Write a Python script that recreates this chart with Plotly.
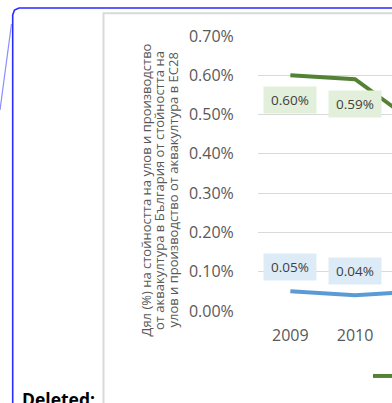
import plotly.graph_objects as go

# ---- data ----
years = [2009, 2010, 2011]
green_name = "Улов"
green_vals = [0.0060, 0.0059, 0.0047]
blue_name = "Аквакултура"
blue_vals = [0.0005, 0.0004, 0.0005]
y_ticks = [0.0, 0.001, 0.002, 0.003, 0.004, 0.005, 0.006, 0.007]
axis_title_lines = ["Дял (%) на стойността на улов и производство",
                    "от аквакултура в България от стойността на",
                    "улов и производство от аквакултура в ЕС28"]

W, H = 392, 403
ML, MR, MT, MB = 258, 0, 36, 92
PW, PH = W - ML - MR, H - MT - MB


def px(x):
    return (x - ML) / PW


def py(y):
    return (H - MB - y) / PH


GREEN = "#548235"
BLUE = "#5b9bd5"
TXT = "#595959"
FONT = "Open Sans"

fig = go.Figure()
fig.add_trace(go.Scatter(x=years, y=green_vals, mode="lines", name=green_name,
                         line=dict(color=GREEN, width=4)))
fig.add_trace(go.Scatter(x=years, y=blue_vals, mode="lines", name=blue_name,
                         line=dict(color=BLUE, width=4), showlegend=False))

annotations = []
for x, v in zip(years, green_vals):
    annotations.append(dict(x=x, y=v, xref="x", yref="y", text=f"{v*100:.2f}%",
                            showarrow=False, yshift=-25, width=50, height=24,
                            bgcolor="#e2efda", font=dict(family=FONT, size=13.5, color="#404040")))
for x, v in zip(years, blue_vals):
    annotations.append(dict(x=x, y=v, xref="x", yref="y", text=f"{v*100:.2f}%",
                            showarrow=False, yshift=24, width=50, height=24,
                            bgcolor="#ddebf7", font=dict(family=FONT, size=13.5, color="#404040")))

for i, line in enumerate(axis_title_lines):
    annotations.append(dict(x=px(145 + 13.5 * i), y=py(190.5), xref="paper", yref="paper",
                            xanchor="center", yanchor="middle",
                            text=line, textangle=-90, showarrow=False,
                            font=dict(family=FONT, size=13, color=TXT)))
annotations.append(dict(x=px(20), y=py(385), xref="paper", yref="paper",
                        xanchor="left", yanchor="top", text="<b>Deleted:</b>", showarrow=False,
                        font=dict(family=FONT, size=17.5, color="#000000")))


def path(points):
    return "M " + " L ".join(f"{px(a)},{py(b)}" for a, b in points)


shapes = [
    # chart area border (light grey)
    dict(type="path", xref="paper", yref="paper",
         path=path([(103.5, 410), (103.5, 13.3), (400, 13.3)]),
         line=dict(color="#d9d9d9", width=2), layer="below"),
    # comment balloon frame
    dict(type="path", xref="paper", yref="paper",
         path=path([(12.7, 410), (12.7, 15), (14.5, 10), (19, 8), (400, 8)]),
         line=dict(color="#2a2aff", width=1.6)),
    dict(type="path", xref="paper", yref="paper",
         path=path([(0, 110), (11.5, 24)]),
         line=dict(color="#8c8cff", width=1.2)),
]

fig.update_layout(
    width=W, height=H,
    margin=dict(l=ML, r=MR, t=MT, b=MB, pad=0, autoexpand=False),
    paper_bgcolor="white", plot_bgcolor="white",
    font=dict(family=FONT, color=TXT),
    showlegend=True,
    legend=dict(orientation="h", x=px(373 - 5), y=py(376), xanchor="left", yanchor="middle",
                font=dict(size=13, color=TXT), bgcolor="rgba(0,0,0,0)", borderwidth=0),
    xaxis=dict(range=[2008.5, 2008.5 + PW / 64.7], tickmode="array", tickvals=years,
               ticktext=[str(y) for y in years], showgrid=False, zeroline=False,
               showline=False, ticks="outside", ticklen=10, tickcolor="rgba(0,0,0,0)",
               tickfont=dict(family=FONT, size=16, color=TXT)),
    yaxis=dict(range=[0, 0.007], tickmode="array", tickvals=y_ticks, tickformat=".2%",
               showgrid=True, gridcolor="#d9d9d9", gridwidth=1.3, zeroline=False,
               showline=False, ticks="outside", ticklen=20, tickcolor="rgba(0,0,0,0)",
               tickfont=dict(family=FONT, size=16, color=TXT)),
    annotations=annotations,
    shapes=shapes,
)

fig.write_html("out.html",
               config={"displayModeBar": False},
               post_script="document.body.style.margin='0';"
                           "document.documentElement.style.overflow='hidden';")
